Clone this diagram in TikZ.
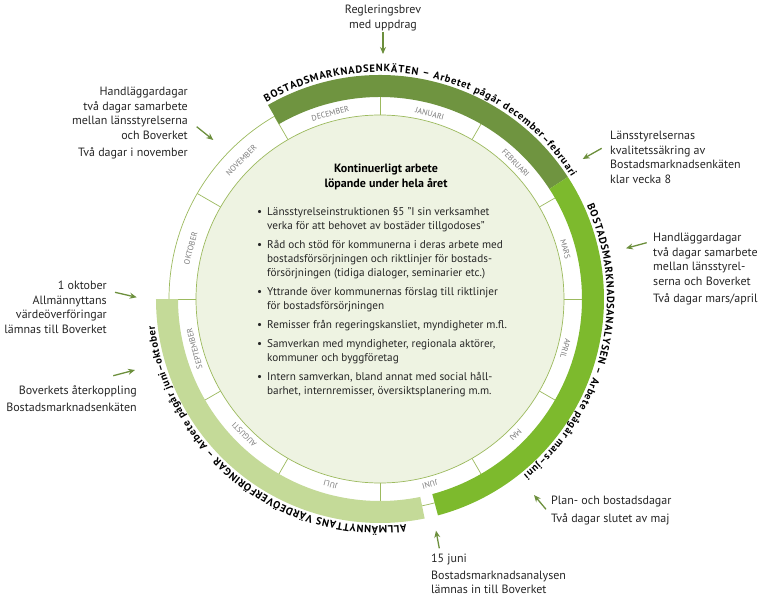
\documentclass[tikz,border=0pt]{standalone}
\usepackage{fontspec}
\setmainfont{PT Sans}
\usetikzlibrary{arrows.meta, decorations.text}
\definecolor{olivband}{HTML}{6F9440}
\definecolor{limeband}{HTML}{7DBA2D}
\definecolor{paleband}{HTML}{C4DA98}
\definecolor{innergreen}{HTML}{EEF3E2}
\definecolor{ringgreen}{HTML}{9CBA5E}
\definecolor{pilgreen}{HTML}{6C8F3C}
\definecolor{monthgray}{HTML}{7A7A7A}
\newcommand{\blt}{\makebox[10pt][l]{\textbullet}}
\newcommand{\ind}{\makebox[10pt]{}}
\tikzset{
    ringline/.style={draw=ringgreen, line width=0.7pt},
    pil/.style={draw=pilgreen, line width=1.3pt, -{Stealth[length=7pt,width=6pt]}},
    note/.style={font=\fontsize{12}{14.5}\selectfont, inner sep=0pt, text=black!85},
    monthlbl/.style={font=\fontsize{8}{9}\selectfont, text=monthgray, inner sep=0pt},
    bandtext/.style={decorate, decoration={text along path, text align=fit to path}}
}
\begin{document}
\begin{tikzpicture}[x=1pt, y=1pt]
    \def \Ri {184}
    \def \Rm {211}
    \def \Rb {202}
    \def \Ro {224}
    \def \Rt {227}
    \useasboundingbox (-380,-304) rectangle (383,299);
    % month ring
    \filldraw[fill=white, ringline] (0,0) circle (\Rm);
    \foreach \a in {0,30,...,330}
        \draw[ringline] (\a:\Ri) -- (\a:\Rm);
    % bands
    \fill[olivband] (120:\Rb) arc[start angle=120, end angle=33, radius=\Rb] -- (33:\Ro) arc[start angle=33, end angle=120, radius=\Ro] -- cycle;
    \fill[limeband] (33:\Rb) arc[start angle=33, end angle=-75, radius=\Rb] -- (-75:\Ro) arc[start angle=-75, end angle=33, radius=\Ro] -- cycle;
    \fill[paleband] (-78.5:\Rb) arc[start angle=-78.5, end angle=-180, radius=\Rb] -- (-180:\Ro) arc[start angle=-180, end angle=-78.5, radius=\Ro] -- cycle;
    \filldraw[fill=innergreen, ringline] (0,0) circle (\Ri);
    % months
    \foreach \ang/\mon/\rr in {105/DECEMBER/192, 75/JANUARI/192, 45/FEBRUARI/192, 15/MARS/192, -15/APRIL/192, -45/MAJ/192, -75/JUNI/192, -105/JULI/192, -135/AUGUSTI/192, -165/SEPTEMBER/192, 165/OKTOBER/196, 135/NOVEMBER/196}
        \node[monthlbl, rotate=\ang-90] (m\mon) at (\ang:\rr) {\mon};
    % band texts
    \path[bandtext, decoration={text={|\bfseries\fontsize{10.5}{11}\selectfont|BOSTADSMARKNADSENKÄTEN – Arbetet pågår december–februari}}]
        (120:\Rt) arc[start angle=120, end angle=32.6, radius=\Rt];
    \path[bandtext, decoration={text={|\bfseries\fontsize{10.5}{11}\selectfont|BOSTADSMARKNADSANALYSEN – Arbete pågår mars–juni}}]
        (24.3:\Rt) arc[start angle=24.3, end angle=-50.7, radius=\Rt];
    \path[bandtext, decoration={text={|\bfseries\fontsize{10.5}{11}\selectfont|ALLMÄNNYTTANS VÄRDEÖVERFÖRINGAR – Arbete pågår juni–oktober}}]
        (-83.4:\Rt) arc[start angle=-83.4, end angle=-173, radius=\Rt];
    % centre
    \node[font=\bfseries\fontsize{12}{15}\selectfont, align=center, anchor=north, inner sep=0pt] (titel) at (6,135) {Kontinuerligt arbete\\löpande under hela året};
    \node[font=\fontsize{11.2}{14}\selectfont, align=left, anchor=north west, inner sep=0pt, text=black!85] (lista) at (-123,92) {%
        \blt Länsstyrelseinstruktionen §5 "I sin verksamhet\\
        \ind verka för att behovet av bostäder tillgodoses"\\[5pt]
        \blt Råd och stöd för kommunerna i deras arbete med\\
        \ind bostadsförsörjningen och riktlinjer för bostads-\\
        \ind försörjningen (tidiga dialoger, seminarier etc.)\\[5pt]
        \blt Yttrande över kommunernas förslag till riktlinjer\\
        \ind för bostadsförsörjningen\\[5pt]
        \blt Remisser från regeringskansliet, myndigheter m.fl.\\[5pt]
        \blt Samverkan med myndigheter, regionala aktörer,\\
        \ind kommuner och byggföretag\\[5pt]
        \blt Intern samverkan, bland annat med social håll-\\
        \ind barhet, internremisser, översiktsplanering m.m.};
    % notes
    \node[note, anchor=north, align=center] (regl) at (3,294) {Regleringsbrev\\med uppdrag};
    \node[note, anchor=north east, align=right] (hlnov) at (-192,212) {Handläggardagar\\två dagar samarbete\\mellan länsstyrelserna\\och Boverket\\[2.5pt]Två dagar i november};
    \node[note, anchor=north west, align=left] (kvsak) at (230,168) {Länsstyrelsernas\\kvalitetssäkring av\\Bostadsmarknadsenkäten\\klar vecka 8};
    \node[note, anchor=north west, align=left] (hlmar) at (273,66) {Handläggardagar\\två dagar samarbete\\mellan länsstyrel-\\serna och Boverket\\[2.5pt]Två dagar mars/april};
    \node[note, anchor=north east, align=right] (okt) at (-273,18) {1 oktober\\Allmännyttans\\värdeöverföringar\\lämnas till Boverket};
    \node[note, anchor=north east, align=right] (aterk) at (-243,-86) {Boverkets återkoppling\\[3pt]Bostadsmarknadsenkäten};
    \node[note, anchor=north west, align=left] (plan) at (171,-197) {Plan- och bostadsdagar\\[3pt]Två dagar slutet av maj};
    \node[note, anchor=north west, align=left] (juni) at (51,-255) {15 juni\\[2pt]Bostadsmarknadsanalysen\\lämnas in till Boverket};
    % arrows
    \coordinate (p1a) at (3,267);        \coordinate (p1b) at (3,245);
    \coordinate (p2a) at (-183.3,172.3); \coordinate (p2b) at (-166.7,159);
    \coordinate (p3a) at (221.7,150.7);  \coordinate (p3b) at (202.7,140);
    \coordinate (p4a) at (266.7,56.3);   \coordinate (p4b) at (246,50.7);
    \coordinate (p5a) at (-265,6.7);     \coordinate (p5b) at (-243.3,1.7);
    \coordinate (p6a) at (-266.7,-76.7); \coordinate (p6b) at (-245,-71);
    \coordinate (p7a) at (166,-210.3);   \coordinate (p7b) at (154,-196);
    \coordinate (p8a) at (59.3,-249.3);  \coordinate (p8b) at (56,-231.7);
    \foreach \i in {1,...,8}
        \draw[pil] (p\i a) -- (p\i b);
\end{tikzpicture}
\end{document}
